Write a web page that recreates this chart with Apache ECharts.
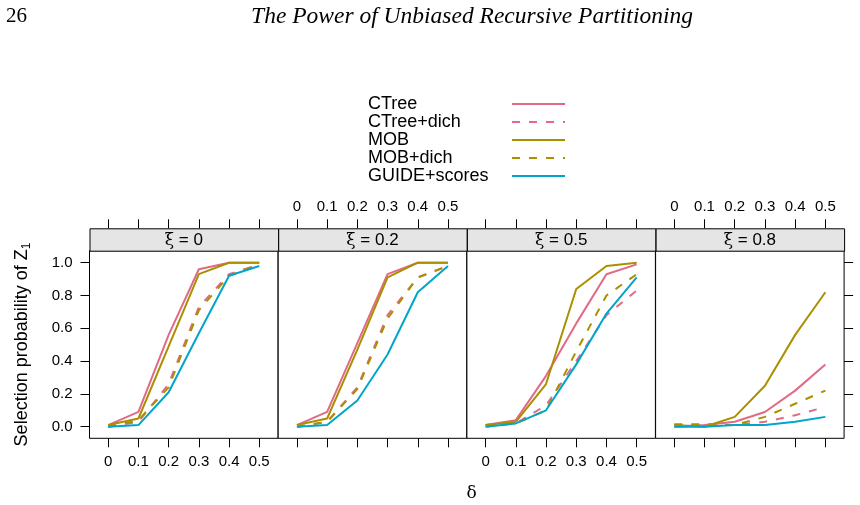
<!DOCTYPE html>
<html>
<head>
<meta charset="utf-8">
<script src="https://cdn.jsdelivr.net/npm/echarts@6/dist/echarts.min.js"></script>
<style>
  html, body { margin: 0; padding: 0; background: #fff; }
  #chart { width: 860px; height: 505px; }
</style>
</head>
<body>
<div id="chart"></div>
<script>
// δ values on the x axis and the ξ value of each panel
var delta = [0, 0.1, 0.2, 0.3, 0.4, 0.5];
var xiLabels = ['0', '0.2', '0.5', '0.8'];
var yTicks = [0, 0.2, 0.4, 0.6, 0.8, 1.0];

// selection probability of Z1, one row per panel (ξ = 0, 0.2, 0.5, 0.8)
var ctree = [
  [0.01, 0.09, 0.56, 0.96, 1.00, 1.00],
  [0.01, 0.09, 0.51, 0.93, 1.00, 1.00],
  [0.01, 0.04, 0.31, 0.63, 0.93, 0.99],
  [0.00, 0.01, 0.03, 0.09, 0.22, 0.38]
];
var ctreeDich = [
  [0.00, 0.03, 0.26, 0.73, 0.93, 0.99],
  [0.00, 0.03, 0.24, 0.68, 0.91, 0.98],
  [0.00, 0.02, 0.13, 0.40, 0.68, 0.83],
  [0.01, 0.01, 0.01, 0.03, 0.07, 0.12]
];
var mob = [
  [0.01, 0.05, 0.49, 0.93, 1.00, 1.00],
  [0.01, 0.05, 0.47, 0.91, 1.00, 1.00],
  [0.01, 0.03, 0.26, 0.84, 0.98, 1.00],
  [0.01, 0.00, 0.06, 0.25, 0.56, 0.82]
];
var mobDich = [
  [0.00, 0.04, 0.24, 0.71, 0.92, 0.99],
  [0.00, 0.03, 0.23, 0.66, 0.91, 0.98],
  [0.01, 0.02, 0.10, 0.46, 0.80, 0.93],
  [0.015, 0.015, 0.01, 0.06, 0.14, 0.22]
];
var guide = [
  [0.00, 0.01, 0.21, 0.57, 0.92, 0.98],
  [0.00, 0.01, 0.16, 0.44, 0.82, 0.98],
  [0.00, 0.02, 0.10, 0.38, 0.69, 0.91],
  [0.00, 0.00, 0.01, 0.01, 0.03, 0.06]
];

var methods = [
  { name: 'CTree', data: ctree, color: '#E16A86', dash: 'solid' },
  { name: 'CTree+dich', data: ctreeDich, color: '#E16A86', dash: [8, 9] },
  { name: 'MOB', data: mob, color: '#AA9000', dash: 'solid' },
  { name: 'MOB+dich', data: mobDich, color: '#AA9000', dash: [8, 9] },
  { name: 'GUIDE+scores', data: guide, color: '#00A6CA', dash: 'solid' }
];

(function () {
  var myChart = echarts.init(document.getElementById('chart'));
  var sans = 'Liberation Sans';
  var panelLeft = [89.5, 278.2, 466.9, 655.6];
  var panelW = 188.5;
  var plotTop = 250.7, plotH = 187.6, stripH = 22.4;

  var grids = [], xAxes = [], yAxes = [], series = [], graphics = [];

  panelLeft.forEach(function (left, i) {
    grids.push({
      left: left, top: plotTop, width: panelW, height: plotH,
      show: true, borderColor: '#000', borderWidth: 1, backgroundColor: '#fff'
    });
    var xBase = {
      type: 'value', gridIndex: i, min: -0.062, max: 0.562,
      axisLine: { show: false, onZero: false }, splitLine: { show: false },
      axisTick: { show: true, inside: false, length: 9, customValues: delta,
        lineStyle: { color: '#000' } },
      axisLabel: { customValues: delta, margin: 16, fontSize: 15, color: '#000',
        fontFamily: sans, formatter: function (v) { return String(v); } }
    };
    // bottom axis: labels on panels 1 and 3
    xAxes.push(Object.assign({}, xBase, { position: 'bottom',
      axisLabel: Object.assign({}, xBase.axisLabel, { show: i % 2 === 0 }) }));
    // top axis above the strip: labels on panels 2 and 4
    xAxes.push(Object.assign({}, xBase, { position: 'top', offset: stripH,
      axisLabel: Object.assign({}, xBase.axisLabel, { show: i % 2 === 1, margin: 14 }) }));

    yAxes.push({
      type: 'value', gridIndex: i, position: 'left', min: -0.0707, max: 1.0732,
      axisLine: { show: false, onZero: false }, splitLine: { show: false },
      axisTick: { show: i === 0, length: 9, customValues: yTicks, lineStyle: { color: '#000' } },
      axisLabel: { show: i === 0, customValues: yTicks, margin: 17, fontSize: 15, color: '#000',
        fontFamily: sans, formatter: function (v) { return v.toFixed(1); } },
      name: i === 0 ? '{a|Selection probability of Z}{s|1}' : '',
      nameLocation: 'middle', nameGap: 57, nameRotate: 90,
      nameTextStyle: { fontFamily: sans, color: '#000',
        rich: { a: { fontSize: 18, fontFamily: sans, color: '#000' },
                s: { fontSize: 12, fontFamily: sans, color: '#000', padding: [9, 0, 0, 0] } } }
    });

    // strip with the ξ value
    graphics.push({
      type: 'rect', left: left, top: plotTop - stripH,
      shape: { width: panelW, height: stripH },
      style: { fill: '#E5E5E5', stroke: '#000', lineWidth: 1 }
    });
    graphics.push({
      type: 'text', x: left + panelW / 2, y: plotTop - stripH / 2 + 1,
      style: {
        text: '{g|ξ}{t| = ' + xiLabels[i] + '}',
        align: 'center', verticalAlign: 'middle',
        rich: { g: { fontFamily: 'DejaVu Serif', fontSize: 17, fill: '#000' },
                t: { fontFamily: sans, fontSize: 17, fill: '#000' } }
      }
    });

    methods.forEach(function (m) {
      series.push({
        name: m.name, type: 'line', xAxisIndex: 2 * i, yAxisIndex: i,
        symbol: 'none', animation: false,
        data: delta.map(function (d, k) { return [d, m.data[i][k]]; }),
        lineStyle: { color: m.color, width: 2, type: m.dash },
        itemStyle: { color: m.color }
      });
    });
  });

  // right-hand ticks on the last panel
  yAxes.push({
    type: 'value', gridIndex: 3, position: 'right', min: -0.0707, max: 1.0732,
    axisLine: { show: false, onZero: false }, splitLine: { show: false },
    axisTick: { show: true, length: 9, customValues: yTicks, lineStyle: { color: '#000' } },
    axisLabel: { show: false }
  });

  var option = {
    backgroundColor: '#fff',
    animation: false,
    title: [
      { text: '26', left: 1, top: 1,
        textStyle: { fontFamily: 'Liberation Serif', fontWeight: 'normal', fontSize: 21, color: '#000' } },
      { text: 'The Power of Unbiased Recursive Partitioning', left: 467, top: 0, textAlign: 'center',
        textStyle: { fontFamily: 'Liberation Serif', fontStyle: 'italic', fontWeight: 'normal',
          fontSize: 23.5, color: '#000' } },
      { text: 'δ', left: 466.6, top: 480, textAlign: 'center',
        textStyle: { fontFamily: 'DejaVu Serif', fontWeight: 'normal', fontSize: 17, color: '#000' } }
    ],
    legend: {
      orient: 'vertical', left: 368, top: 95, align: 'right',
      itemWidth: 53, itemHeight: 14, itemGap: 0, padding: 0,
      itemStyle: { opacity: 0 },
      data: methods.map(function (m) { return m.name; }),
      formatter: function (name) { return '{a|' + name + '}'; },
      textStyle: { fontFamily: sans, fontSize: 18, color: '#000', lineHeight: 17.5,
        rich: { a: { width: 139, align: 'left', fontFamily: sans, fontSize: 18,
          lineHeight: 17.5, color: '#000' } } }
    },
    grid: grids,
    xAxis: xAxes,
    yAxis: yAxes,
    series: series,
    graphic: graphics
  };

  myChart.setOption(option);
  window.addEventListener('resize', function () {
    myChart.resize();
  });
})();
</script>
</body>
</html>
